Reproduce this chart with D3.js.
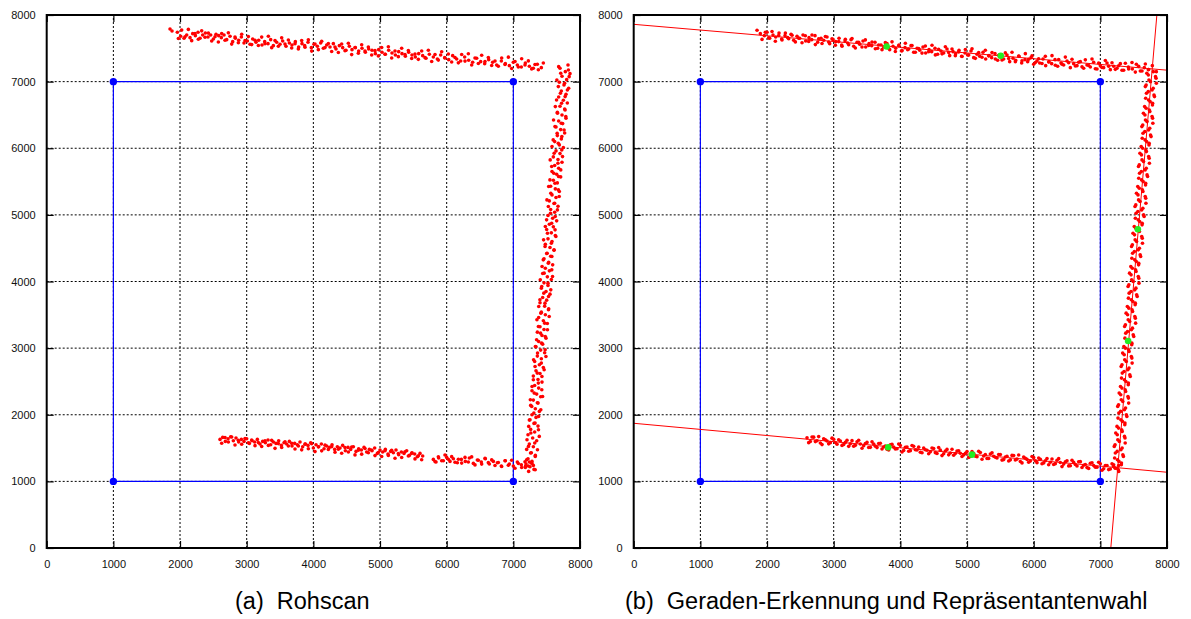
<!DOCTYPE html>
<html>
<head>
<meta charset="utf-8">
<script src="https://cdn.jsdelivr.net/npm/d3@7"></script>
<style>
  html, body { margin: 0; padding: 0; background: #fff; }
  svg { display: block; }
  .tick text { font-family: "Liberation Sans", Arial, Helvetica, sans-serif; font-size: 11px; fill: #111; }
  .caption { font-family: "Liberation Sans", Arial, Helvetica, sans-serif; font-size: 23.5px; fill: #000; white-space: pre; }
</style>
</head>
<body>
<svg id="chart" width="1191" height="619"></svg>
<script>
// ---------------- DATA ----------------
const xTicks = [0, 1000, 2000, 3000, 4000, 5000, 6000, 7000, 8000];
const yTicks = [0, 1000, 2000, 3000, 4000, 5000, 6000, 7000, 8000];

const captionA = "(a)  Rohscan";
const captionB = "(b)  Geraden-Erkennung und Repräsentantenwahl";

// reference square (pose markers)
const squareCorners = [[1000, 1000], [7000, 1000], [7000, 7000], [1000, 7000]];

// panel (a): raw scan
const scanA_top = [[1850,7790],[1880,7760],[1960,7740],[2010,7680],[2060,7650],[2100,7700],[2150,7660],[2190,7720],[2230,7690],[2270,7740],[2300,7650],[2340,7700],[2380,7730],[2420,7670],[2460,7700],[2500,7640],[2540,7710],[2580,7690],[2620,7660],[2660,7700],[2700,7630],[2750,7680],[2790,7600],[2830,7650],[2880,7620],[2920,7670],[2960,7580],[3010,7610],[3050,7560],[3090,7640],[3140,7590],[3180,7620],[3230,7550],[3270,7600],[3320,7570],[3360,7630],[3400,7540],[3450,7590],[3500,7560],[3540,7610],[3590,7530],[3640,7580],[3680,7550],[3730,7600],[3780,7520],[3830,7570],[3870,7540],[3920,7590],[3970,7510],[4010,7560],[4060,7530],[4110,7580],[4150,7500],[4200,7550],[4250,7520],[4300,7570],[4340,7490],[4390,7540],[4440,7510],[4490,7470],[4540,7530],[4580,7480],[4630,7510],[4680,7460],[4730,7500],[4780,7440],[4830,7490],[4880,7470],[4930,7420],[4980,7480],[5030,7440],[5080,7410],[5130,7470],[5180,7430],[5230,7400],[5280,7450],[5330,7420],[5380,7380],[5430,7440],[5480,7400],[5530,7370],[5580,7420],[5640,7390],[5690,7350],[5740,7410],[5800,7370],[5860,7340],[5910,7400],[5970,7360],[6030,7330],[6090,7390],[6150,7340],[6210,7310],[6270,7370],[6330,7320],[6390,7290],[6450,7350],[6510,7300],[6570,7270],[6630,7330],[6690,7290],[6750,7250],[6820,7310],[6880,7270],[6940,7240],[7000,7290],[7060,7250],[7120,7220],[7180,7280],[7240,7230],[7300,7200],[7360,7260],[7420,7210],[7450,7280]];
const scanA_top2 = [[1975,7647],[2025,7773],[2075,7673],[2125,7784],[2175,7615],[2225,7720],[2275,7636],[2325,7762],[2375,7667],[2425,7728],[2475,7609],[2525,7674],[2575,7595],[2625,7721],[2675,7621],[2725,7732],[2775,7563],[2825,7668],[2875,7584],[2925,7710],[2975,7615],[3025,7676],[3075,7556],[3125,7622],[3175,7543],[3225,7668],[3275,7569],[3325,7680],[3375,7510],[3425,7616],[3475,7532],[3525,7657],[3575,7563],[3625,7624],[3675,7504],[3725,7570],[3775,7491],[3825,7616],[3875,7517],[3925,7628],[3975,7458],[4025,7564],[4075,7480],[4125,7605],[4175,7511],[4225,7571],[4275,7452],[4325,7518],[4375,7438],[4425,7564],[4475,7465],[4525,7575],[4575,7406],[4625,7512],[4675,7427],[4725,7553],[4775,7459],[4825,7519],[4875,7400],[4925,7465],[4975,7386],[5025,7512],[5075,7412],[5125,7523],[5175,7354],[5225,7459],[5275,7375],[5325,7501],[5375,7406],[5425,7467],[5475,7348],[5525,7413],[5575,7334],[5625,7460],[5675,7360],[5725,7471],[5775,7302],[5825,7407],[5875,7323],[5925,7449],[5975,7354],[6025,7415],[6075,7295],[6125,7361],[6175,7282],[6225,7407],[6275,7308],[6325,7419],[6375,7249],[6425,7355],[6475,7271],[6525,7396],[6575,7302],[6625,7363],[6675,7243],[6725,7309],[6775,7230],[6825,7355],[6875,7256],[6925,7367],[6975,7197],[7025,7303],[7075,7219],[7125,7344],[7175,7250],[7225,7311],[7275,7191],[7325,7257],[7375,7178]];
const scanA_right = [[7820,7250],[7700,7200],[7780,7150],[7850,7120],[7730,7080],[7800,7030],[7690,6990],[7760,6950],[7830,6900],[7720,6860],[7790,6810],[7680,6770],[7750,6720],[7810,6680],[7700,6630],[7770,6590],[7660,6540],[7730,6500],[7790,6450],[7680,6410],[7740,6370],[7640,6320],[7710,6280],[7770,6230],[7660,6190],[7720,6140],[7620,6100],[7690,6050],[7750,6010],[7640,5960],[7700,5920],[7600,5870],[7670,5830],[7730,5790],[7620,5740],[7680,5700],[7580,5650],[7650,5610],[7710,5570],[7600,5520],[7660,5480],[7560,5430],[7630,5390],[7690,5350],[7580,5300],[7640,5260],[7540,5210],[7610,5170],[7670,5130],[7560,5080],[7620,5040],[7520,4990],[7590,4950],[7650,4910],[7540,4860],[7600,4820],[7500,4780],[7570,4730],[7630,4690],[7520,4640],[7580,4600],[7480,4560],[7550,4510],[7610,4470],[7500,4420],[7560,4380],[7460,4340],[7530,4290],[7590,4250],[7480,4200],[7540,4160],[7440,4120],[7510,4070],[7570,4030],[7460,3980],[7520,3940],[7420,3900],[7490,3850],[7550,3810],[7440,3760],[7500,3720],[7400,3680],[7470,3630],[7530,3590],[7420,3540],[7480,3500],[7380,3460],[7450,3410],[7510,3370],[7400,3320],[7460,3280],[7360,3240],[7430,3190],[7490,3150],[7380,3100],[7440,3060],[7340,3020],[7410,2970],[7470,2930],[7360,2880],[7420,2840],[7320,2800],[7390,2750],[7450,2710],[7340,2660],[7400,2620],[7300,2580],[7370,2530],[7430,2490],[7320,2440],[7380,2400],[7280,2360],[7350,2310],[7410,2270],[7300,2220],[7360,2180],[7260,2140],[7330,2090],[7390,2050],[7280,2000],[7340,1960],[7240,1920],[7310,1870],[7370,1830],[7260,1780],[7320,1740],[7220,1700],[7290,1650],[7350,1610],[7240,1560],[7300,1520],[7200,1480],[7270,1430],[7330,1390],[7220,1340],[7280,1300],[7190,1260],[7250,1220],[7310,1180],[7230,1150]];
const scanA_right2 = [[7680,7225],[7826,7175],[7711,7125],[7837,7075],[7653,7025],[7769,6975],[7675,6925],[7811,6875],[7706,6825],[7777,6775],[7648,6725],[7724,6675],[7630,6625],[7776,6575],[7662,6525],[7787,6475],[7603,6425],[7719,6375],[7625,6325],[7761,6275],[7657,6225],[7728,6175],[7598,6125],[7674,6075],[7580,6025],[7726,5975],[7612,5925],[7738,5875],[7553,5825],[7669,5775],[7575,5725],[7711,5675],[7607,5625],[7678,5575],[7549,5525],[7624,5475],[7530,5425],[7676,5375],[7562,5325],[7688,5275],[7504,5225],[7620,5175],[7525,5125],[7661,5075],[7557,5025],[7628,4975],[7499,4925],[7575,4875],[7480,4825],[7626,4775],[7512,4725],[7638,4675],[7454,4625],[7570,4575],[7476,4525],[7611,4475],[7507,4425],[7578,4375],[7449,4325],[7525,4275],[7431,4225],[7577,4175],[7462,4125],[7588,4075],[7404,4025],[7520,3975],[7426,3925],[7562,3875],[7457,3825],[7528,3775],[7399,3725],[7475,3675],[7381,3625],[7527,3575],[7413,3525],[7538,3475],[7354,3425],[7470,3375],[7376,3325],[7512,3275],[7408,3225],[7479,3175],[7349,3125],[7425,3075],[7331,3025],[7477,2975],[7363,2925],[7489,2875],[7304,2825],[7420,2775],[7326,2725],[7462,2675],[7358,2625],[7429,2575],[7300,2525],[7375,2475],[7281,2425],[7427,2375],[7313,2325],[7439,2275],[7255,2225],[7371,2175],[7276,2125],[7412,2075],[7308,2025],[7379,1975],[7250,1925],[7326,1875],[7231,1825],[7377,1775],[7263,1725],[7389,1675],[7205,1625],[7321,1575],[7227,1525],[7362,1475],[7258,1425],[7329,1375],[7200,1325],[7276,1275],[7182,1225],[7328,1175]];
const scanA_bottom = [[2600,1630],[2640,1660],[2680,1600],[2720,1640],[2760,1670],[2800,1610],[2840,1650],[2880,1590],[2920,1630],[2960,1600],[3000,1640],[3040,1570],[3080,1610],[3120,1590],[3160,1630],[3200,1560],[3240,1600],[3280,1580],[3320,1620],[3360,1550],[3400,1590],[3440,1570],[3480,1610],[3520,1540],[3560,1580],[3600,1560],[3640,1600],[3680,1530],[3720,1570],[3760,1550],[3800,1590],[3840,1520],[3880,1560],[3920,1540],[3960,1580],[4000,1500],[4040,1550],[4080,1520],[4120,1560],[4160,1490],[4200,1530],[4240,1510],[4280,1550],[4320,1480],[4360,1520],[4400,1500],[4440,1540],[4480,1460],[4520,1510],[4560,1480],[4600,1520],[4640,1450],[4680,1490],[4720,1470],[4760,1510],[4800,1440],[4840,1480],[4880,1460],[4920,1500],[4960,1420],[5000,1470],[5040,1440],[5080,1480],[5120,1410],[5160,1450],[5200,1430],[5240,1470],[5280,1400],[5320,1440],[5360,1420],[5400,1460],[5440,1390],[5480,1430],[5520,1410],[5560,1370],[5600,1420],[5640,1380],[5800,1330],[5840,1290],[5880,1350],[5950,1310],[6000,1360],[6050,1300],[6100,1340],[6160,1280],[6220,1330],[6280,1300],[6340,1350],[6400,1270],[6460,1320],[6520,1290],[6580,1340],[6640,1260],[6700,1300],[6760,1280],[6820,1230],[6880,1310],[6940,1260],[7000,1230],[7060,1290],[7120,1250],[7180,1210],[7240,1290],[7300,1240]];
const scanA_bottom2 = [[2625,1573],[2675,1659],[2725,1590],[2775,1665],[2825,1546],[2875,1617],[2925,1558],[2975,1644],[3025,1580],[3075,1621],[3125,1536],[3175,1582],[3225,1523],[3275,1609],[3325,1540],[3375,1616],[3425,1496],[3475,1567],[3525,1508],[3575,1594],[3625,1530],[3675,1571],[3725,1487],[3775,1532],[3825,1473],[3875,1559],[3925,1490],[3975,1566],[4025,1447],[4075,1518],[4125,1458],[4175,1544],[4225,1480],[4275,1521],[4325,1437],[4375,1483],[4425,1423],[4475,1509],[4525,1440],[4575,1516],[4625,1397],[4675,1468],[4725,1409],[4775,1494],[4825,1430],[4875,1471],[4925,1387],[4975,1433],[5025,1374],[5075,1460],[5125,1390],[5175,1466],[5225,1347],[5275,1418],[5325,1359],[5375,1445],[5425,1380],[5475,1421],[5525,1337],[5575,1383],[5625,1324],[5825,1297],[5875,1368],[5925,1309],[5975,1395],[6025,1331],[6075,1371],[6125,1287],[6175,1333],[6225,1274],[6275,1360],[6325,1291],[6375,1367],[6425,1247],[6475,1318],[6525,1259],[6575,1345],[6625,1281],[6675,1322],[6725,1238],[6775,1283],[6825,1224],[6875,1310],[6925,1241],[6975,1317],[7025,1198],[7075,1269],[7125,1209],[7175,1295],[7225,1231],[7275,1272]];

// panel (b): scan with detected lines and representatives
const scanB_top = [[1850,7770],[1900,7720],[1960,7690],[2000,7740],[2040,7650],[2090,7700],[2130,7670],[2180,7730],[2220,7640],[2270,7690],[2310,7660],[2360,7710],[2400,7620],[2450,7680],[2490,7650],[2540,7700],[2580,7610],[2630,7660],[2670,7630],[2720,7690],[2760,7590],[2810,7650],[2850,7620],[2900,7670],[2940,7570],[2990,7630],[3030,7600],[3080,7650],[3120,7550],[3170,7610],[3210,7580],[3260,7630],[3300,7530],[3350,7590],[3390,7560],[3440,7610],[3480,7520],[3530,7570],[3570,7540],[3620,7590],[3660,7500],[3710,7550],[3750,7520],[3800,7570],[3840,7480],[3890,7530],[3930,7500],[3980,7550],[4020,7460],[4070,7510],[4110,7480],[4160,7540],[4200,7440],[4250,7500],[4290,7470],[4340,7520],[4380,7430],[4430,7480],[4470,7450],[4520,7500],[4560,7410],[4610,7460],[4650,7430],[4700,7490],[4740,7390],[4790,7450],[4830,7420],[4880,7470],[4920,7380],[4970,7430],[5010,7400],[5060,7460],[5100,7360],[5150,7410],[5190,7380],[5240,7440],[5280,7340],[5330,7390],[5370,7360],[5420,7420],[5460,7320],[5510,7370],[5550,7340],[5600,7400],[5640,7300],[5690,7350],[5730,7320],[5780,7380],[5820,7280],[5870,7330],[5910,7300],[5960,7360],[6000,7260],[6050,7310],[6090,7280],[6140,7340],[6180,7240],[6230,7300],[6270,7270],[6320,7330],[6360,7230],[6410,7280],[6450,7250],[6500,7310],[6550,7210],[6600,7270],[6650,7240],[6700,7300],[6750,7200],[6800,7250],[6850,7220],[6900,7290],[6950,7190],[7000,7240],[7050,7210],[7100,7280],[7150,7180],[7200,7230],[7250,7200],[7300,7270],[7350,7170],[7420,7220],[7480,7190],[7540,7260],[7600,7160],[7660,7210],[7720,7180],[7780,7240],[7840,7150]];
const scanB_top2 = [[1925,7634],[1975,7740],[2025,7656],[2075,7752],[2125,7607],[2175,7693],[2225,7624],[2275,7729],[2325,7645],[2375,7696],[2425,7596],[2475,7652],[2525,7583],[2575,7689],[2625,7604],[2675,7700],[2725,7556],[2775,7641],[2825,7572],[2875,7678],[2925,7593],[2975,7644],[3025,7545],[3075,7601],[3125,7531],[3175,7637],[3225,7553],[3275,7648],[3325,7504],[3375,7590],[3425,7520],[3475,7626],[3525,7542],[3575,7593],[3625,7493],[3675,7549],[3725,7480],[3775,7585],[3825,7501],[3875,7597],[3925,7452],[3975,7538],[4025,7469],[4075,7575],[4125,7490],[4175,7541],[4225,7442],[4275,7497],[4325,7428],[4375,7534],[4425,7449],[4475,7545],[4525,7401],[4575,7487],[4625,7417],[4675,7523],[4725,7439],[4775,7489],[4825,7390],[4875,7446],[4925,7376],[4975,7482],[5025,7398],[5075,7494],[5125,7349],[5175,7435],[5225,7366],[5275,7471],[5325,7387],[5375,7438],[5425,7339],[5475,7394],[5525,7325],[5575,7431],[5625,7346],[5675,7442],[5725,7298],[5775,7383],[5825,7314],[5875,7420],[5925,7336],[5975,7386],[6025,7287],[6075,7343],[6125,7273],[6175,7379],[6225,7295],[6275,7390],[6325,7246],[6375,7332],[6425,7262],[6475,7368],[6525,7284],[6575,7335],[6625,7235],[6675,7291],[6725,7222],[6775,7327],[6825,7243],[6875,7339],[6925,7194],[6975,7280],[7025,7211],[7075,7317],[7125,7232],[7175,7283],[7225,7184],[7275,7239],[7325,7170],[7375,7276],[7425,7191],[7475,7287],[7525,7143],[7575,7229],[7625,7159],[7675,7265],[7725,7181]];
const scanB_right = [[7795,7150],[7720,7100],[7836,7050],[7752,7000],[7687,6950],[7793,6900],[7719,6850],[7805,6800],[7680,6750],[7746,6700],[7782,6650],[7687,6600],[7743,6550],[7669,6500],[7784,6450],[7700,6400],[7636,6350],[7741,6300],[7667,6250],[7753,6200],[7628,6150],[7694,6100],[7730,6050],[7635,6000],[7691,5950],[7617,5900],[7732,5850],[7648,5800],[7584,5750],[7689,5700],[7615,5650],[7701,5600],[7576,5550],[7642,5500],[7678,5450],[7584,5400],[7639,5350],[7565,5300],[7681,5250],[7596,5200],[7532,5150],[7638,5100],[7563,5050],[7649,5000],[7525,4950],[7590,4900],[7626,4850],[7532,4800],[7587,4750],[7513,4700],[7629,4650],[7544,4600],[7480,4550],[7586,4500],[7511,4450],[7597,4400],[7473,4350],[7539,4300],[7574,4250],[7480,4200],[7536,4150],[7461,4100],[7577,4050],[7493,4000],[7428,3950],[7534,3900],[7460,3850],[7545,3800],[7421,3750],[7487,3700],[7522,3650],[7428,3600],[7484,3550],[7409,3500],[7525,3450],[7441,3400],[7376,3350],[7482,3300],[7408,3250],[7493,3200],[7369,3150],[7435,3100],[7471,3050],[7376,3000],[7432,2950],[7358,2900],[7473,2850],[7389,2800],[7325,2750],[7430,2700],[7356,2650],[7442,2600],[7317,2550],[7383,2500],[7419,2450],[7324,2400],[7380,2350],[7306,2300],[7421,2250],[7337,2200],[7273,2150],[7378,2100],[7304,2050],[7390,2000],[7265,1950],[7331,1900],[7367,1850],[7273,1800],[7328,1750],[7254,1700],[7370,1650],[7285,1600],[7221,1550],[7327,1500],[7252,1450],[7338,1400],[7214,1350],[7279,1300],[7315,1250],[7221,1200],[7276,1150]];
const scanB_right2 = [[7698,7125],[7828,7075],[7729,7025],[7840,6975],[7675,6925],[7776,6875],[7692,6825],[7812,6775],[7723,6725],[7784,6675],[7664,6625],[7735,6575],[7646,6525],[7776,6475],[7677,6425],[7788,6375],[7623,6325],[7724,6275],[7640,6225],[7761,6175],[7671,6125],[7732,6075],[7613,6025],[7683,5975],[7594,5925],[7725,5875],[7625,5825],[7736,5775],[7572,5725],[7672,5675],[7588,5625],[7709,5575],[7619,5525],[7680,5475],[7561,5425],[7631,5375],[7542,5325],[7673,5275],[7573,5225],[7684,5175],[7520,5125],[7620,5075],[7536,5025],[7657,4975],[7568,4925],[7628,4875],[7509,4825],[7580,4775],[7490,4725],[7621,4675],[7522,4625],[7632,4575],[7468,4525],[7569,4475],[7484,4425],[7605,4375],[7516,4325],[7576,4275],[7457,4225],[7528,4175],[7438,4125],[7569,4075],[7470,4025],[7580,3975],[7416,3925],[7517,3875],[7432,3825],[7553,3775],[7464,3725],[7525,3675],[7405,3625],[7476,3575],[7387,3525],[7517,3475],[7418,3425],[7529,3375],[7364,3325],[7465,3275],[7381,3225],[7501,3175],[7412,3125],[7473,3075],[7353,3025],[7424,2975],[7335,2925],[7465,2875],[7366,2825],[7477,2775],[7312,2725],[7413,2675],[7329,2625],[7449,2575],[7360,2525],[7421,2475],[7302,2425],[7372,2375],[7283,2325],[7414,2275],[7314,2225],[7425,2175],[7261,2125],[7361,2075],[7277,2025],[7398,1975],[7308,1925],[7369,1875],[7250,1825],[7320,1775],[7231,1725],[7362,1675],[7262,1625],[7373,1575],[7209,1525],[7309,1475],[7225,1425],[7346,1375],[7256,1325],[7317,1275],[7198,1225],[7269,1175]];
const scanB_bottom = [[2600,1653],[2650,1598],[2700,1664],[2750,1609],[2800,1575],[2850,1640],[2900,1605],[2950,1581],[3000,1631],[3050,1557],[3100,1607],[3150,1553],[3200,1618],[3250,1563],[3300,1529],[3350,1594],[3400,1560],[3450,1535],[3500,1585],[3550,1511],[3600,1561],[3650,1507],[3700,1572],[3750,1517],[3800,1483],[3850,1548],[3900,1514],[3950,1489],[4000,1539],[4050,1465],[4100,1515],[4150,1461],[4200,1526],[4250,1471],[4300,1437],[4350,1502],[4400,1468],[4450,1443],[4500,1493],[4550,1419],[4600,1469],[4650,1415],[4700,1480],[4750,1425],[4800,1391],[4850,1456],[4900,1422],[4950,1397],[5000,1448],[5050,1373],[5100,1423],[5150,1369],[5200,1434],[5250,1380],[5300,1345],[5350,1410],[5400,1376],[5450,1351],[5500,1402],[5550,1327],[5600,1377],[5650,1323],[5700,1388],[5750,1334],[5800,1299],[5850,1364],[5900,1330],[5950,1305],[6000,1356],[6050,1281],[6100,1331],[6150,1277],[6200,1342],[6250,1288],[6300,1253],[6350,1318],[6400,1284],[6450,1259],[6500,1310],[6550,1235],[6600,1285],[6650,1231],[6700,1296],[6750,1242],[6800,1207],[6850,1272],[6900,1238],[6950,1213],[7000,1264],[7050,1189],[7100,1239],[7150,1185],[7200,1250],[7250,1196]];
const scanB_bottom2 = [[2625,1581],[2675,1666],[2725,1597],[2775,1672],[2825,1552],[2875,1623],[2925,1563],[2975,1649],[3025,1584],[3075,1624],[3125,1540],[3175,1585],[3225,1526],[3275,1611],[3325,1541],[3375,1617],[3425,1497],[3475,1568],[3525,1508],[3575,1593],[3625,1529],[3675,1569],[3725,1485],[3775,1530],[3825,1471],[3875,1556],[3925,1486],[3975,1562],[4025,1442],[4075,1512],[4125,1453],[4175,1538],[4225,1474],[4275,1514],[4325,1430],[4375,1475],[4425,1415],[4475,1501],[4525,1431],[4575,1507],[4625,1387],[4675,1457],[4725,1398],[4775,1483],[4825,1419],[4875,1459],[4925,1374],[4975,1420],[5025,1360],[5075,1446],[5125,1376],[5175,1451],[5225,1332],[5275,1402],[5325,1343],[5375,1428],[5425,1363],[5475,1404],[5525,1319],[5575,1365],[5625,1305],[5675,1390],[5725,1321],[5775,1396],[5825,1277],[5875,1347],[5925,1287],[5975,1373],[6025,1308],[6075,1349],[6125,1264],[6175,1310],[6225,1250],[6275,1335],[6325,1266],[6375,1341],[6425,1222],[6475,1292],[6525,1232],[6575,1318],[6625,1253],[6675,1294],[6725,1209],[6775,1254],[6825,1195],[6875,1280],[6925,1211],[6975,1286],[7025,1166],[7075,1237],[7125,1177],[7175,1263],[7225,1198],[7275,1238]];

// detected lines (endpoints read at the plot border)
const fitLines = [
  [[0, 7860], [8000, 7172]],
  [[0, 1872], [8000, 1137]],
  [[7157, 0], [7848, 8000]]
];
// representative points (green)
const representatives = [[3794, 7527], [5506, 7387], [3818, 1512], [5075, 1401], [7563, 4785], [7417, 3108]];

// ---------------- DRAW ----------------
const svg = d3.select("#chart");
const yRange = [548, 15];

function drawPanel(id, xRange, scans, lines, reps) {
  const x = d3.scaleLinear().domain([0, 8000]).range(xRange);
  const y = d3.scaleLinear().domain([0, 8000]).range(yRange);
  const g = svg.append("g").attr("id", id);

  const clipId = id + "-clip";
  svg.append("defs").append("clipPath").attr("id", clipId)
    .append("rect")
    .attr("x", x(0)).attr("y", y(8000))
    .attr("width", x(8000) - x(0)).attr("height", y(0) - y(8000));

  // grid
  const gridX = xTicks.filter(d => d > 0 && d < 8000);
  const gridY = yTicks.filter(d => d > 0 && d < 8000);
  const grid = g.append("g").attr("class", "grid")
    .attr("stroke", "#000").attr("stroke-width", 1).attr("stroke-dasharray", "2,2");
  grid.selectAll("line.gx").data(gridX).join("line").attr("class", "gx")
    .attr("x1", d => x(d)).attr("x2", d => x(d))
    .attr("y1", y(0)).attr("y2", y(8000));
  grid.selectAll("line.gy").data(gridY).join("line").attr("class", "gy")
    .attr("y1", d => y(d)).attr("y2", d => y(d))
    .attr("x1", x(0)).attr("x2", x(8000));

  // axes with inward ticks (mirrored on all sides)
  const axB = g.append("g").attr("transform", `translate(0,${y(0)})`)
    .call(d3.axisBottom(x).tickValues(xTicks).tickFormat(d3.format("d")).tickSizeInner(-7).tickSizeOuter(0).tickPadding(12));
  const axL = g.append("g").attr("transform", `translate(${x(0)},0)`)
    .call(d3.axisLeft(y).tickValues(yTicks).tickFormat(d3.format("d")).tickSizeInner(-7).tickSizeOuter(0).tickPadding(11));
  const axT = g.append("g").attr("transform", `translate(0,${y(8000)})`)
    .call(d3.axisTop(x).tickValues(xTicks).tickFormat("").tickSizeInner(-7).tickSizeOuter(0));
  const axR = g.append("g").attr("transform", `translate(${x(8000)},0)`)
    .call(d3.axisRight(y).tickValues(yTicks).tickFormat("").tickSizeInner(-7).tickSizeOuter(0));
  [axB, axL, axT, axR].forEach(a => {
    a.select(".domain").remove();
    a.selectAll(".tick line").attr("stroke", "#000").attr("stroke-width", 1.2);
    a.attr("font-family", null).attr("font-size", null);
  });

  const plot = g.append("g").attr("clip-path", `url(#${clipId})`);

  // blue square
  const sq = d3.line().x(d => x(d[0])).y(d => y(d[1]));
  plot.append("path")
    .attr("d", sq(squareCorners) + "Z")
    .attr("fill", "none").attr("stroke", "#0000ff").attr("stroke-width", 1.2);
  plot.selectAll("circle.corner").data(squareCorners).join("circle").attr("class", "corner")
    .attr("cx", d => x(d[0])).attr("cy", d => y(d[1])).attr("r", 3.7).attr("fill", "#0000ff");

  // scan points
  const pts = scans.flat();
  plot.selectAll("circle.scan").data(pts).join("circle").attr("class", "scan")
    .attr("cx", d => x(d[0])).attr("cy", d => y(d[1])).attr("r", 1.8).attr("fill", "#ff0000");

  // fitted lines
  if (lines) {
    plot.selectAll("line.fit").data(lines).join("line").attr("class", "fit")
      .attr("x1", d => x(d[0][0])).attr("y1", d => y(d[0][1]))
      .attr("x2", d => x(d[1][0])).attr("y2", d => y(d[1][1]))
      .attr("stroke", "#ff0000").attr("stroke-width", 1);
  }
  if (reps) {
    plot.selectAll("circle.rep").data(reps).join("circle").attr("class", "rep")
      .attr("cx", d => x(d[0])).attr("cy", d => y(d[1])).attr("r", 3.3).attr("fill", "#22ee22");
  }

  // frame
  g.append("rect")
    .attr("x", x(0)).attr("y", y(8000))
    .attr("width", x(8000) - x(0)).attr("height", y(0) - y(8000))
    .attr("fill", "none").attr("stroke", "#000").attr("stroke-width", 2);
}

drawPanel("panelA", [46.7, 580], [scanA_top, scanA_top2, scanA_right, scanA_right2, scanA_bottom, scanA_bottom2], null, null);
drawPanel("panelB", [633.7, 1167], [scanB_top, scanB_top2, scanB_right, scanB_right2, scanB_bottom, scanB_bottom2], fitLines, representatives);

svg.append("text").attr("class", "caption").attr("x", 235).attr("y", 609).text(captionA);
svg.append("text").attr("class", "caption").attr("x", 625).attr("y", 609).text(captionB);
</script>
</body>
</html>
